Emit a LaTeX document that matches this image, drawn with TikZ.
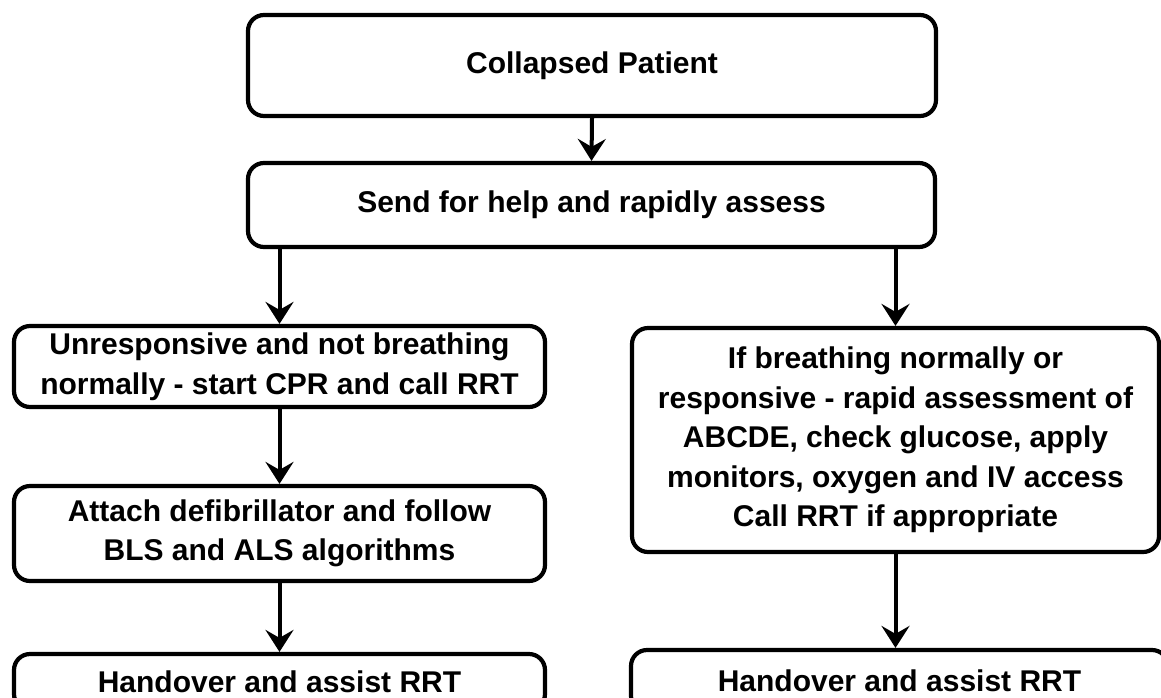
\documentclass[tikz,border=0pt]{standalone}
\usepackage{fontspec}
\setmainfont{Liberation Sans}
\usetikzlibrary{arrows.meta}
\begin{document}
\begin{tikzpicture}[x=1pt,y=-1pt,
  box/.style={draw, line width=4.2pt, rounded corners=16pt, inner sep=0pt, align=center,
    font=\fontsize{30}{39.5}\selectfont\bfseries},
  arr/.style={line width=4pt, -{Stealth[length=22pt,width=28pt,inset=8pt]}}]
\useasboundingbox (0,0) rectangle (1161,697);
\node[box, minimum width=688pt, minimum height=101pt] (b1) at (592,65.5) {Collapsed Patient};
\node[box, minimum width=687pt, minimum height=84pt] (b2) at (591.5,205) {Send for help and rapidly assess};
\node[box, minimum width=531pt, minimum height=81pt] (l1) at (279.5,366.5) {Unresponsive and not breathing\\normally - start CPR and call RRT};
\node[box, minimum width=531pt, minimum height=95pt] (l2) at (279.5,533.5) {Attach defibrillator and follow\\BLS and ALS algorithms};
\node[box, minimum width=531pt, minimum height=56pt] (l3) at (279.5,682) {Handover and assist RRT};
\node[box, minimum width=537pt, minimum height=62pt] (r2) at (899.5,681) {Handover and assist RRT};
\node[box, minimum width=527pt, minimum height=224pt] (r1) at (895.5,440) {If breathing normally or\\responsive - rapid assessment of\\ABCDE, check glucose, apply\\monitors, oxygen and IV access\\Call RRT if appropriate};
\draw[arr] (b1.south) -- (b2.north);
\draw[arr] (l1.north |- b2.south) -- (l1.north);
\draw[arr] (r1.north |- b2.south) -- (r1.north);
\draw[arr] (l1.south) -- (l2.north);
\draw[arr] (l2.south) -- (l3.north);
\draw[arr] (r1.south) -- (r1.south |- r2.north);
\end{tikzpicture}
\end{document}
